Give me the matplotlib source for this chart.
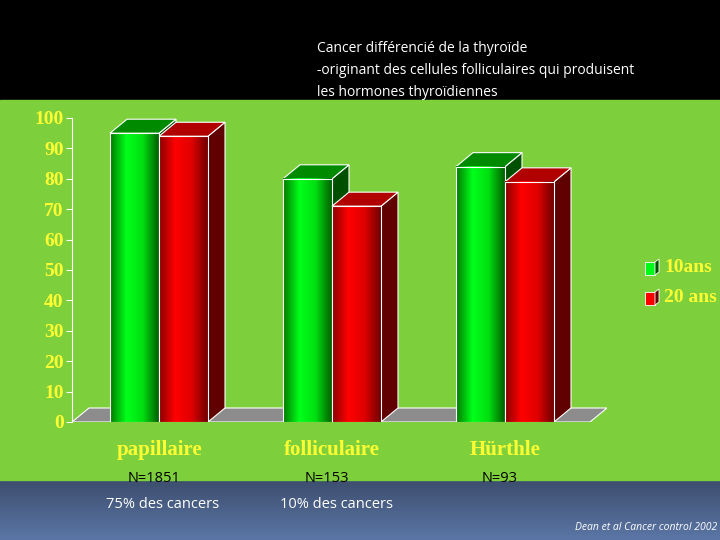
import numpy as np
import matplotlib.pyplot as plt
from matplotlib.patches import Polygon, Rectangle
from matplotlib.colors import LinearSegmentedColormap

categories = ['papillaire', 'folliculaire', 'Hürthle']
survie_10ans = [95, 80, 84]
survie_20ans = [94, 71, 79]
effectifs = ['N=1851', 'N=153', 'N=93']
proportions = ['75% des cancers', '10% des cancers', '']
series_labels = ['10ans', '20 ans']
yticks = list(range(0, 101, 10))

fig = plt.figure(figsize=(7.2, 5.4), dpi=100)

# background in pixel coordinates
bg = fig.add_axes([0, 0, 1, 1])
bg.axis('off')
bg.add_patch(Rectangle((0, 0), 720, 100, color='black'))
bg.add_patch(Rectangle((0, 100), 720, 380, color='#7dcf3b'))
grad = np.linspace(0, 1, 60).reshape(-1, 1)
bg.imshow(grad, extent=(0, 720, 540, 480), aspect='auto', origin='upper',
          cmap=LinearSegmentedColormap.from_list('b', ['#3d4e6e', '#5b76a6']), zorder=0)
bg.set_xlim(0, 720)
bg.set_ylim(540, 0)

bg.text(317, 48, "Cancer différencié de la thyroïde", color='white', fontsize=10,
        family='Open Sans', va='center')
bg.text(317, 70, "-originant des cellules folliculaires qui produisent", color='white',
        fontsize=10, family='Open Sans', va='center')
bg.text(317, 92, "les hormones thyroïdiennes", color='white', fontsize=10,
        family='Open Sans', va='center')

centres_px = [159, 332, 505]
for cx, n, p in zip(centres_px, effectifs, proportions):
    bg.text(cx - 5, 479, n, fontsize=10.5, family='Open Sans', ha='center', va='center', color='black')
    if p:
        bg.text(cx + 4, 505, p, fontsize=10.5, family='Open Sans', ha='center', va='center', color='white')
bg.text(717, 528, "Dean et al Cancer control 2002", fontsize=7.5, style='italic',
        family='Open Sans', ha='right', va='center', color='white')

# chart axes: x in pixels relative to x=72, y in data units
x0, x1, ybot, ytop = 72, 607, 422, 118
ax = fig.add_axes([x0 / 720, (540 - ybot) / 540, (x1 - x0) / 720, (ybot - ytop) / 540])
ax.patch.set_alpha(0)
for s in ['top', 'right', 'bottom']:
    ax.spines[s].set_visible(False)
ax.spines['left'].set_color('white')
ax.set_yticks(yticks)
ax.set_yticklabels([str(t) for t in yticks], color='#ffff33', fontsize=14,
                   family='Liberation Serif', fontweight='bold')
ax.tick_params(axis='y', colors='white', length=4, labelcolor='#ffff33', pad=2)
ax.set_xticks([])

dx = 17
dy = 14 * 100 / (ybot - ytop)

# floor
ax.add_patch(Polygon([(0, 0), (x1 - x0 - dx, 0), (x1 - x0, dy), (dx, dy)],
                     closed=True, facecolor='#8c8c8c', edgecolor='white', lw=0.8, zorder=1))

greens = LinearSegmentedColormap.from_list('g', ['#007a00', '#00ff1a', '#00e010', '#006000'])
reds = LinearSegmentedColormap.from_list('r', ['#8a0000', '#ff0000', '#e00000', '#700000'])
faces = [(greens, '#008a00', '#005000'), (reds, '#b00000', '#600000')]

bw = 49
shade = np.linspace(0, 1, 100).reshape(1, -1)
for i, c in enumerate(centres_px):
    cxr = c - x0
    for j, vals in enumerate([survie_10ans, survie_20ans]):
        h = vals[i]
        left = cxr - bw + j * bw
        cmap, topc, sidec = faces[j]
        z = 3 + j
        ax.add_patch(Polygon([(left + bw, 0), (left + bw + dx, dy), (left + bw + dx, h + dy), (left + bw, h)],
                             closed=True, facecolor=sidec, edgecolor='white', lw=0.8, zorder=z))
        ax.add_patch(Polygon([(left, h), (left + dx, h + dy), (left + bw + dx, h + dy), (left + bw, h)],
                             closed=True, facecolor=topc, edgecolor='white', lw=0.8, zorder=z))
        ax.imshow(shade, extent=(left, left + bw, 0, h), aspect='auto', cmap=cmap, zorder=z)
        ax.add_patch(Rectangle((left, 0), bw, h, fill=False, edgecolor='white', lw=0.8, zorder=z))
    ax.text(cxr, -6, categories[i], ha='center', va='top', color='#ffff33', fontsize=15,
            family='Liberation Serif', fontweight='bold', clip_on=False)
ax.set_xlim(0, x1 - x0)
ax.set_ylim(0, 100)

# legend
for k, (lab, (cmap, topc, sidec)) in enumerate(zip(series_labels, faces)):
    ly = 268 + 30 * k
    bg.add_patch(Rectangle((645, ly - 6), 10, 13, facecolor=cmap(0.4), edgecolor='white', lw=0.6))
    bg.add_patch(Polygon([(655, ly - 6), (659, ly - 9), (659, ly + 4), (655, ly + 7)],
                         facecolor=sidec, edgecolor='white', lw=0.6))
    bg.text(664, ly, lab, color='#ffff33', fontsize=14, family='Liberation Serif',
            fontweight='bold', va='center')

fig.savefig('out.png', dpi=100)
